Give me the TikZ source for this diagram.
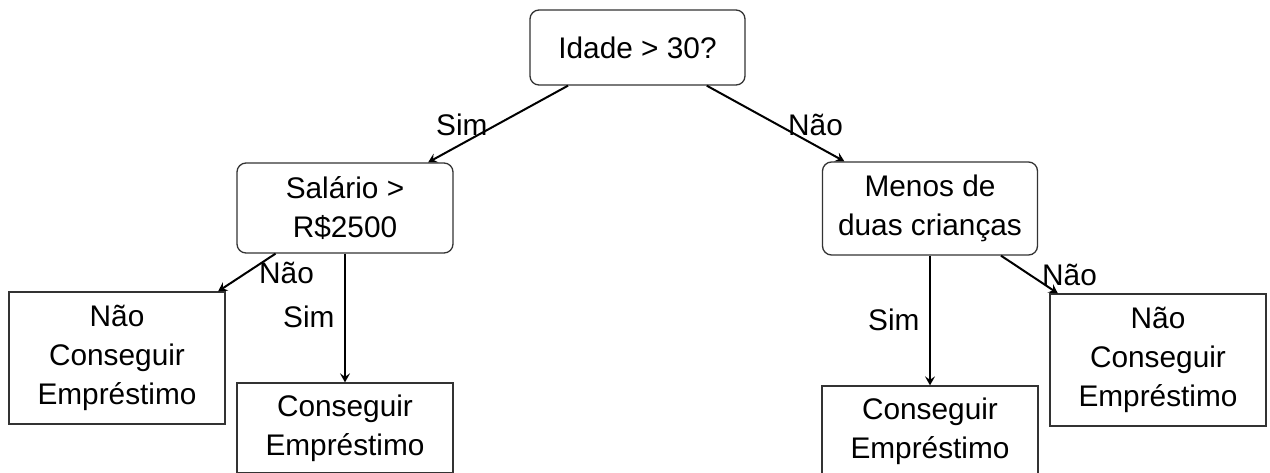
\documentclass[tikz,border=0pt]{standalone}
\usepackage{fontspec}
\setmainfont{Liberation Sans}
\usetikzlibrary{arrows.meta}
\begin{document}
\begin{tikzpicture}[x=1pt,y=-1pt,
  every node/.style={font=\fontsize{29.8}{39}\selectfont},
  decision/.style={draw=black!80, line width=1.3pt, rounded corners=9pt, align=center, inner sep=0pt},
  leaf/.style={draw=black!80, line width=1.3pt, align=center, inner sep=0pt, minimum width=216pt},
  edge/.style={line width=2pt, -{Stealth[length=9pt,width=10pt,inset=3.5pt]}},
  lbl/.style={anchor=base west, inner sep=0pt}
]
\useasboundingbox (0,0) rectangle (1270,472);
\node[decision, minimum width=215pt, minimum height=75pt] (root) at (637.5,47.5) {Idade > 30?};
\node[decision, minimum width=216pt, minimum height=90pt] (sal) at (345,208) {Salário >\\R\$2500};
\node[decision, minimum width=215pt, minimum height=93pt] (men) at (930,208.5) {Menos de\\duas crianças};
\node[leaf, minimum height=132pt] (nl) at (117,358) {Não\\Conseguir\\Empréstimo};
\node[leaf, minimum height=90pt] (cl) at (345,428) {Conseguir\\Empréstimo};
\node[leaf, minimum height=90pt] (cr) at (930,431) {Conseguir\\Empréstimo};
\node[leaf, minimum height=132pt] (nr) at (1158,360) {Não\\Conseguir\\Empréstimo};
\draw[edge] (root) -- (sal);
\draw[edge] (root) -- (men);
\draw[edge] (sal) -- (nl);
\draw[edge] (sal) -- (cl);
\draw[edge] (men) -- (cr);
\draw[edge] (men) -- (nr);
\node[lbl] (l1) at (436,135) {Sim};
\node[lbl] (l2) at (788,135) {Não};
\node[lbl] (l3) at (259,283) {Não};
\node[lbl] (l4) at (283,327) {Sim};
\node[lbl] (l5) at (868,330) {Sim};
\node[lbl] (l6) at (1042,285) {Não};
\end{tikzpicture}
\end{document}
